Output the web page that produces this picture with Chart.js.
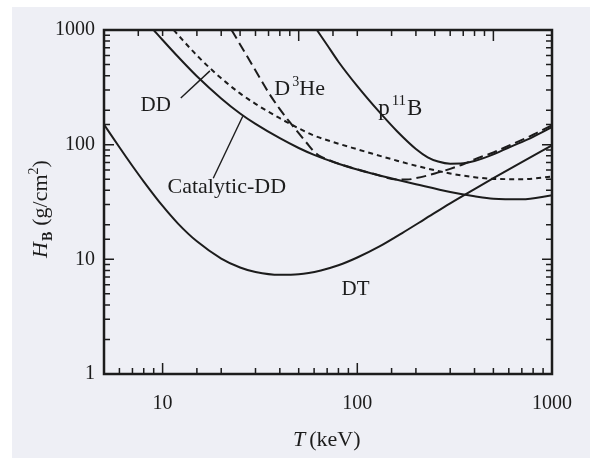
<!DOCTYPE html>
<html>
<head>
<meta charset="utf-8">
<script src="https://cdn.jsdelivr.net/npm/chart.js@4.4.1/dist/chart.umd.min.js"></script>
<style>
  html, body { margin: 0; padding: 0; background: #ffffff; }
  #wrap { width: 590px; height: 459px; }
</style>
</head>
<body>
<div id="wrap"><canvas id="hbChart" width="590" height="459"></canvas></div>
<script>
// ignition parameter H_B (g/cm^2) against temperature T (keV), log-log

// DT
const dtT = [5, 6, 7, 8, 10, 12, 15, 20, 25, 30, 40, 50, 65, 80, 100, 130, 170, 220, 300, 400, 500, 700, 1000];
const dtH = [150, 95, 65.2, 47.7, 29.2, 20.5, 14.35, 10.16, 8.49, 7.75, 7.32, 7.4, 8.0, 8.87, 10.37, 12.96, 16.95, 22.2, 30.8, 41.0, 51.0, 70.4, 98.5];

// DD (short dashes)
const ddT = [11.4, 12, 15, 20, 25, 30, 40, 50, 60, 80, 100, 120, 160, 200, 300, 400, 500, 700, 1000];
const ddH = [1000, 907, 600, 379, 280, 227, 170, 139, 120, 102, 91.2, 83.3, 72.5, 65.5, 56.1, 52.0, 50.3, 50.0, 52.7];

// catalytic DD (solid)
const catT = [9, 10, 12, 15, 20, 25, 30, 40, 50, 60, 80, 100, 120, 160, 200, 300, 400, 500, 700, 1000];
const catH = [1000, 818, 584, 395, 253, 187, 151.7, 113.8, 93.5, 81.5, 68.2, 60.7, 55.8, 49.4, 45.2, 38.7, 35.5, 33.8, 33.4, 36.2];

// D-3He (long dashes)
const dheT = [22.6, 25, 30, 35, 40, 45, 50, 55, 60, 65, 70, 80, 100, 120, 160, 180, 200, 250, 300, 350, 400, 500, 600, 800, 1000];
const dheH = [1000, 749, 444, 285, 204, 157, 126, 103.4, 87, 78.5, 74.5, 68.4, 60.9, 56, 49.6, 49.6, 51, 56, 61.5, 67.5, 74.5, 85.5, 98, 122, 148];

// p-11B (solid)
const pbT = [62, 70, 80, 100, 130, 160, 200, 230, 260, 300, 350, 400, 500, 600, 800, 1000];
const pbH = [1000, 740, 529, 324, 192, 131, 91.7, 77.6, 71.2, 68.2, 68.7, 72, 82.3, 94.4, 117, 142];

const xTickLabels = [10, 100, 1000];
const yTickLabels = [1, 10, 100, 1000];

const SERIF = '"Liberation Serif", "Times New Roman", serif';
const INK = '#1c1c1c';

function pts(ts, hs) {
    return ts.map((t, i) => ({ x: t, y: hs[i] }));
}

function isDecade(v) {
    const l = Math.log10(v);
    return Math.abs(l - Math.round(l)) < 1e-9;
}

// text made of runs (italic, sub/superscripts)
function drawRuns(ctx, x, y, runs) {
    let cx = x;
    runs.forEach(r => {
        ctx.font = r.font;
        ctx.fillText(r.text, cx, y + (r.dy || 0));
        cx += ctx.measureText(r.text).width + (r.gap || 0);
    });
}

const f = (size, style) => `${style || ''} ${size}px ${SERIF}`;

// curve labels anchored in data space (left edge, baseline)
const curveLabels = [
    { t: 7.7, h: 196, runs: [{ text: 'DD', font: f(21) }] },
    { t: 10.6, h: 37.7, runs: [{ text: 'Catalytic-DD', font: f(22) }] },
    { t: 37.5, h: 270, runs: [{ text: 'D', font: f(22), gap: 2 }, { text: '3', font: f(14), dy: -9 }, { text: 'He', font: f(22) }] },
    { t: 128, h: 181, runs: [{ text: 'p', font: f(23), gap: 2 }, { text: '11', font: f(15), dy: -10, gap: 1 }, { text: 'B', font: f(23) }] },
    { t: 83, h: 4.85, runs: [{ text: 'DT', font: f(21) }] }
];

const leaders = [
    [[12.4, 255], [17.5, 440]],
    [[18.2, 51], [25.8, 177]]
];

const paperPlugin = {
    id: 'paper',
    beforeDraw(chart) {
        const ctx = chart.ctx;
        ctx.save();
        ctx.fillStyle = '#ffffff';
        ctx.fillRect(0, 0, chart.width, chart.height);
        ctx.fillStyle = '#eeeff5';
        ctx.fillRect(12, 7, chart.width - 12, chart.height - 8);
        ctx.restore();
    },
    afterDraw(chart) {
        const ctx = chart.ctx;
        const xs = chart.scales.x;
        const ys = chart.scales.y;
        const a = chart.chartArea;
        ctx.save();
        ctx.strokeStyle = INK;
        ctx.fillStyle = INK;

        // frame
        ctx.lineWidth = 2.5;
        ctx.strokeRect(a.left, a.top, a.right - a.left, a.bottom - a.top);

        // inward ticks
        ctx.lineWidth = 1.5;
        ctx.beginPath();
        xs.ticks.forEach(tk => {
            const px = xs.getPixelForValue(tk.value);
            const len = isDecade(tk.value) ? 11 : 6;
            ctx.moveTo(px, a.bottom);
            ctx.lineTo(px, a.bottom - len);
            // top edge carries the same pattern at half the value
            const tv = tk.value * 0.5;
            if (tv >= xs.min && tv <= xs.max) {
                const tp = xs.getPixelForValue(tv);
                ctx.moveTo(tp, a.top);
                ctx.lineTo(tp, a.top + len);
            }
        });
        ys.ticks.forEach(tk => {
            const py = ys.getPixelForValue(tk.value);
            const len = isDecade(tk.value) ? 10 : 6;
            ctx.moveTo(a.left, py);
            ctx.lineTo(a.left + len, py);
            ctx.moveTo(a.right, py);
            ctx.lineTo(a.right - len, py);
        });
        ctx.stroke();

        // leader lines
        ctx.lineWidth = 1.4;
        leaders.forEach(([p, q]) => {
            ctx.beginPath();
            ctx.moveTo(xs.getPixelForValue(p[0]), ys.getPixelForValue(p[1]));
            ctx.lineTo(xs.getPixelForValue(q[0]), ys.getPixelForValue(q[1]));
            ctx.stroke();
        });

        // curve labels
        ctx.textBaseline = 'alphabetic';
        ctx.textAlign = 'left';
        curveLabels.forEach(lb => {
            drawRuns(ctx, xs.getPixelForValue(lb.t), ys.getPixelForValue(lb.h), lb.runs);
        });

        // x title
        drawRuns(ctx, 293, 446, [
            { text: 'T', font: f(22, 'italic'), gap: 4 },
            { text: '(keV)', font: f(22) }
        ]);

        // y title, rotated
        ctx.translate(47, 258);
        ctx.rotate(-Math.PI / 2);
        drawRuns(ctx, 0, 0, [
            { text: 'H', font: f(22, 'italic'), gap: 1 },
            { text: 'B', font: f(14, 'bold'), dy: 5, gap: 6 },
            { text: '(g/cm', font: f(22) },
            { text: '2', font: f(14), dy: -9 },
            { text: ')', font: f(22) }
        ]);
        ctx.restore();
    }
};

const lineBase = {
    borderColor: INK,
    borderWidth: 2,
    pointRadius: 0,
    fill: false,
    cubicInterpolationMode: 'monotone'
};

new Chart(document.getElementById('hbChart'), {
    type: 'line',
    data: {
        datasets: [
            { ...lineBase, label: 'DT', data: pts(dtT, dtH) },
            { ...lineBase, label: 'DD', data: pts(ddT, ddH), borderDash: [5, 4] },
            { ...lineBase, label: 'Catalytic-DD', data: pts(catT, catH) },
            { ...lineBase, label: 'D3He', data: pts(dheT, dheH), borderDash: [10, 5] },
            { ...lineBase, label: 'p11B', data: pts(pbT, pbH) }
        ]
    },
    options: {
        responsive: false,
        animation: false,
        devicePixelRatio: 1,
        layout: { padding: { top: 30, right: 33, left: 0, bottom: 0 } },
        plugins: {
            legend: { display: false },
            tooltip: { enabled: false }
        },
        scales: {
            x: {
                type: 'logarithmic',
                min: 5,
                max: 1000,
                grid: { display: false, drawTicks: false },
                border: { display: false },
                ticks: {
                    autoSkip: false,
                    maxRotation: 0,
                    padding: 18,
                    color: INK,
                    font: { family: SERIF, size: 20 },
                    callback: v => xTickLabels.includes(v) ? String(v) : ''
                },
                afterFit: s => { s.height = 85; }
            },
            y: {
                type: 'logarithmic',
                min: 1,
                max: 1000,
                grid: { display: false, drawTicks: false },
                border: { display: false },
                ticks: {
                    autoSkip: false,
                    padding: 9,
                    color: INK,
                    font: { family: SERIF, size: 20 },
                    callback: v => yTickLabels.includes(v) ? String(v) : ''
                },
                afterFit: s => { s.width = 104; }
            }
        }
    },
    plugins: [paperPlugin]
});
</script>
</body>
</html>
